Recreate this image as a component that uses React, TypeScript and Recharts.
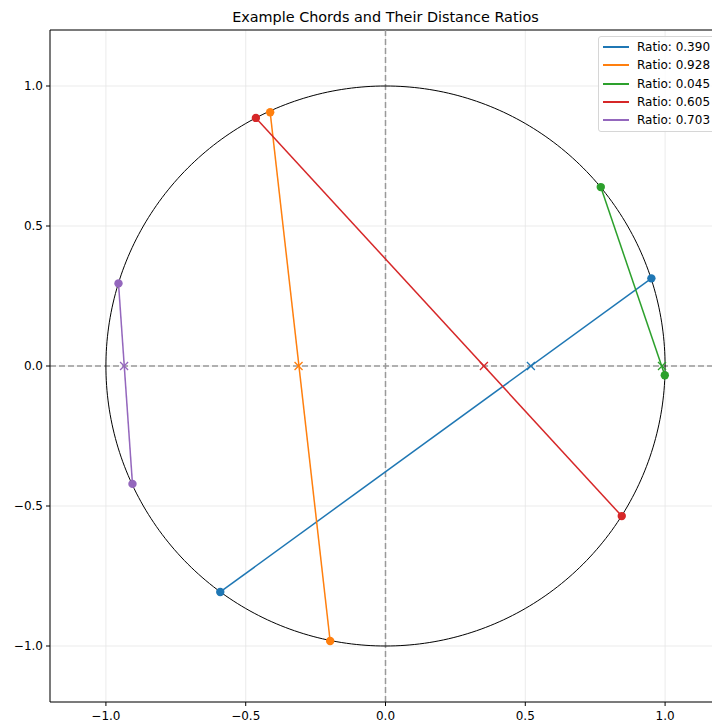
import React from 'react';
import {
  ComposedChart,
  Line,
  Scatter,
  XAxis,
  YAxis,
  CartesianGrid,
  ReferenceLine,
} from 'recharts';

// ---- data ----
const chordLabels = ['Ratio: 0.390', 'Ratio: 0.928', 'Ratio: 0.045', 'Ratio: 0.605', 'Ratio: 0.703'];
const chordColors = ['#1f77b4', '#ff7f0e', '#2ca02c', '#d62728', '#9467bd'];
const startX = [0.951, -0.4125, 0.770, -0.4636, -0.955];
const startY = [0.313, 0.906, 0.639, 0.886, 0.295];
const endX = [-0.591, -0.198, 0.999, 0.845, -0.905];
const endY = [-0.807, -0.982, -0.033, -0.536, -0.421];
const crossX = [0.520, -0.311, 0.989, 0.352, -0.935];
const tickValues = [-1, -0.5, 0, 0.5, 1];
const axisDomain: [number, number] = [-1.2, 1.2];
const title = 'Example Chords and Their Distance Ratios';

// unit circle (geometry, not data)
const circlePts = Array.from({ length: 361 }, (_, i) => ({
  x: Math.cos((i * Math.PI) / 180),
  y: Math.sin((i * Math.PI) / 180),
}));

const chords = chordLabels.map((label, i) => ({
  label,
  color: chordColors[i],
  pts: [
    { x: startX[i], y: startY[i] },
    { x: endX[i], y: endY[i] },
  ],
  cross: [{ x: crossX[i], y: 0 }],
}));

const fmt = (v: number) => v.toFixed(1).replace('-', '\u2212');
const FONT = "'DejaVu Sans', sans-serif";

const makeCross = (color: string) => (props: any) => {
  const { cx, cy } = props;
  const s = 4;
  return (
    <path
      d={`M${cx - s},${cy - s}L${cx + s},${cy + s}M${cx - s},${cy + s}L${cx + s},${cy - s}`}
      stroke={color}
      strokeWidth={1.3}
      fill="none"
    />
  );
};

export default function App() {
  return (
    <div
      style={{
        position: 'absolute',
        left: 0,
        top: 0,
        width: 712,
        height: 721,
        overflow: 'hidden',
        background: '#fff',
        fontFamily: FONT,
      }}
    >
      <ComposedChart
        width={740}
        height={721}
        margin={{ top: 30, right: 19, bottom: 0, left: 0 }}
        style={{ fontFamily: FONT }}
      >
        <CartesianGrid stroke="#e6e6e6" strokeWidth={0.8} />
        <XAxis
          type="number"
          dataKey="x"
          domain={axisDomain}
          ticks={tickValues}
          allowDataOverflow
          tickFormatter={fmt}
          height={19}
          tickSize={4}
          tickMargin={5}
          stroke="#000"
          tick={{ fill: '#000', fontSize: 12, fontFamily: FONT }}
        />
        <YAxis
          type="number"
          dataKey="y"
          domain={axisDomain}
          ticks={tickValues}
          allowDataOverflow
          tickFormatter={fmt}
          width={50}
          tickSize={4}
          tickMargin={3}
          stroke="#000"
          tick={{ fill: '#000', fontSize: 12, fontFamily: FONT }}
        />
        <ReferenceLine y={1.2} stroke="#000" strokeWidth={1} />
        <ReferenceLine x={1.2} stroke="#000" strokeWidth={1} />
        <ReferenceLine y={0} stroke="#999" strokeWidth={1.5} strokeDasharray="6 3" />
        <ReferenceLine x={0} stroke="#999" strokeWidth={1.5} strokeDasharray="6 3" />
        <Line
          data={circlePts}
          dataKey="y"
          type="linear"
          stroke="#000"
          strokeWidth={1}
          dot={false}
          activeDot={false}
          isAnimationActive={false}
          legendType="none"
        />
        {chords.map((c) => (
          <Line
            key={c.label}
            name={c.label}
            data={c.pts}
            dataKey="y"
            type="linear"
            stroke={c.color}
            strokeWidth={1.5}
            dot={{ r: 4.2, fill: c.color, stroke: c.color, strokeWidth: 0 }}
            activeDot={false}
            isAnimationActive={false}
          />
        ))}
        {chords.map((c) => (
          <Scatter
            key={c.label + '-x'}
            data={c.cross}
            dataKey="y"
            fill={c.color}
            shape={makeCross(c.color)}
            isAnimationActive={false}
          />
        ))}
      </ComposedChart>

      <div
        style={{
          position: 'absolute',
          left: 0,
          width: 771,
          top: 8,
          textAlign: 'center',
          fontSize: 14.4,
          lineHeight: '18px',
          color: '#000',
          whiteSpace: 'nowrap',
        }}
      >
        {title}
      </div>

      <div
        style={{
          position: 'absolute',
          left: 598,
          top: 36,
          width: 118,
          height: 94,
          border: '1px solid #d6d6d6',
          borderRadius: 3,
          background: 'rgba(255,255,255,0.8)',
        }}
      >
        {chords.map((c, i) => (
          <div
            key={c.label}
            style={{
              position: 'absolute',
              left: 0,
              top: 9.7 - 9 + i * 18.4,
              height: 18,
              width: 118,
            }}
          >
            <div
              style={{
                position: 'absolute',
                left: 4,
                top: 8,
                width: 26,
                height: 2,
                background: c.color,
              }}
            />
            <div
              style={{
                position: 'absolute',
                left: 38,
                top: 0,
                fontSize: 12,
                lineHeight: '18px',
                color: '#000',
                whiteSpace: 'nowrap',
              }}
            >
              {c.label}
            </div>
          </div>
        ))}
      </div>
    </div>
  );
}
